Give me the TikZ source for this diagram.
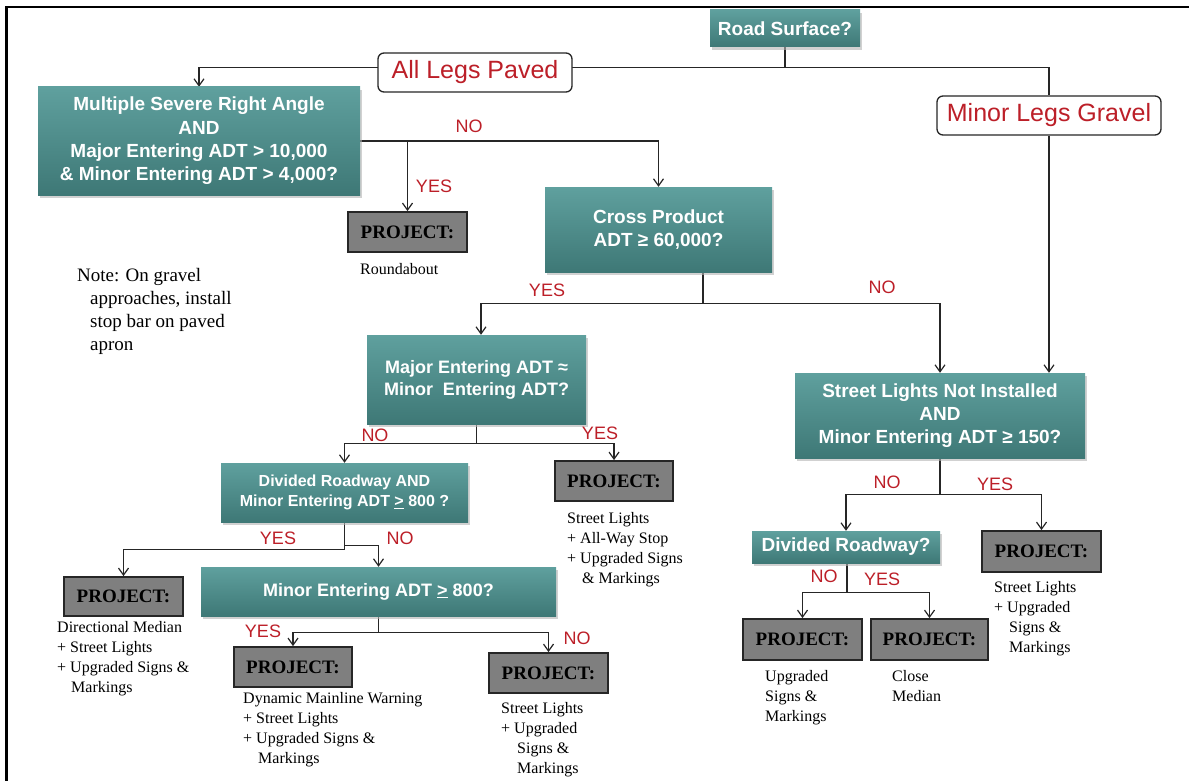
\documentclass[tikz,border=0pt]{standalone}
\usepackage{fontspec}
\setmainfont{Liberation Serif}
\setsansfont{Liberation Sans}
\usetikzlibrary{arrows.meta,shadows}
\definecolor{tealtop}{HTML}{5FA09E}
\definecolor{tealbot}{HTML}{3E7876}
\definecolor{lbl}{HTML}{BC1F28}
\definecolor{projgray}{HTML}{7F7F7F}
\definecolor{lncol}{HTML}{262626}
\pgfdeclarelayer{bg}
\pgfsetlayers{bg,main}
\newcommand{\txtlines}[1]{\begin{tabular}[t]{@{}l@{}}#1\end{tabular}}
\begin{document}
\begin{tikzpicture}[x=1pt,y=-1pt,
  qbox/.style={top color=tealtop,bottom color=tealbot,draw=none,text=white,
    font=\sffamily\bfseries\fontsize{19}{23.3}\selectfont,align=center,inner sep=0pt,
    general shadow={shadow xshift=2pt,shadow yshift=-3pt,fill=black!30,opacity=0.6}},
  rbox/.style={draw=lncol,line width=1.3pt,fill=white,rounded corners=6pt,text=lbl,
    font=\sffamily\fontsize{25}{25}\selectfont,inner sep=0pt},
  pbox/.style={draw=black!85,line width=1.8pt,fill=projgray,text=black,
    font=\bfseries\fontsize{19}{19}\selectfont,inner sep=0pt},
  lab/.style={text=lbl,font=\sffamily\fontsize{18}{18}\selectfont,inner sep=0pt},
  body/.style={anchor=base west,inner sep=0pt,font=\fontsize{16}{20}\selectfont},
  ln/.style={draw=lncol,line width=1.3pt},
  arr/.style={ln,-{Straight Barb[length=7pt,width=10pt,line width=1.2pt]}}]
\useasboundingbox (0,0) rectangle (1189,781);
\draw[line width=2.2pt] (6.5,781) -- (6.5,7) -- (1189,7);

% decision boxes
\node[qbox,minimum width=150,minimum height=37] (road) at (785,28.5) {Road Surface?};
\node[qbox,minimum width=322,minimum height=108] (msra) at (199,141)
  {Multiple Severe Right Angle\\AND\\Major Entering ADT > 10,000\\\& Minor Entering ADT > 4,000?};
\node[qbox,minimum width=227,minimum height=85] (cp) at (658.5,229.5) {Cross Product\\ADT ≥ 60,000?};
\node[qbox,minimum width=219,minimum height=89,font=\sffamily\bfseries\fontsize{18}{22}\selectfont] (major) at (476.5,379.5)
  {Major Entering ADT ≈\\Minor~~Entering ADT?};
\node[qbox,minimum width=247,minimum height=59,font=\sffamily\bfseries\fontsize{16}{19.5}\selectfont] (divand) at (344.5,492.5)
  {Divided Roadway AND\\Minor Entering ADT \underline{>} 800 ?};
\node[qbox,minimum width=355,minimum height=49,font=\sffamily\bfseries\fontsize{18}{22}\selectfont] (minor800) at (378.5,591.5) {Minor Entering ADT \underline{>} 800?};
\node[qbox,minimum width=290,minimum height=85] (sl) at (940,415.5)
  {Street Lights Not Installed\\AND\\Minor Entering ADT ≥ 150?};
\node[qbox,minimum width=188,minimum height=32] (divr) at (846,547) {Divided Roadway?};

% branch boxes
\node[rbox,minimum width=194,minimum height=39] (alp) at (475,72.5) {All Legs Paved};
\node[rbox,minimum width=224,minimum height=39] (mlg) at (1049,115.5) {Minor Legs Gravel};

% project boxes
\node[pbox,minimum width=119,minimum height=40] (proj1) at (407.5,232) {PROJECT:};
\node[pbox,minimum width=118,minimum height=40] (proj2) at (614,481) {PROJECT:};
\node[pbox,minimum width=119,minimum height=39] (proj3) at (123.5,596.5) {PROJECT:};
\node[pbox,minimum width=118,minimum height=40] (proj4) at (293,667) {PROJECT:};
\node[pbox,minimum width=119,minimum height=40] (proj5) at (548.5,673) {PROJECT:};
\node[pbox,minimum width=119,minimum height=41] (proj6) at (1041.5,551.5) {PROJECT:};
\node[pbox,minimum width=119,minimum height=41] (proj7) at (802.5,639.5) {PROJECT:};
\node[pbox,minimum width=117,minimum height=41] (proj8) at (929.5,639.5) {PROJECT:};

% connectors
\begin{pgfonlayer}{bg}
\draw[ln] (road.south) -- ++(0,20) coordinate (j1);
\draw[arr] (j1) -| (msra.north);
\draw[ln] (j1) -| (mlg.north);
\draw[arr] (mlg.south) -- (mlg.south |- sl.north);
\draw[arr] (msra.east) -| (cp.north);
\draw[arr] (msra.east -| proj1.north) -- (proj1.north);
\draw[ln] ([xshift=44.5pt]cp.south) -- ++(0,31) coordinate (j2);
\draw[arr] (j2) -| ([xshift=4.5pt]major.north);
\draw[arr] (j2) -| (sl.north);
\draw[ln] (major.south) -- ++(0,19) coordinate (j3);
\draw[arr] (j3) -| (divand.north);
\draw[arr] (j3) -| (proj2.north);
\draw[ln] (divand.south) -- ++(0,27) coordinate (j4);
\draw[arr] (j4) -| (proj3.north);
\draw[arr] ([yshift=4pt]j4) -| (minor800.north);
\draw[ln] (minor800.south) -- ++(0,16) coordinate (j5);
\draw[arr] (j5) -| (proj4.north);
\draw[arr] (j5) -| (proj5.north);
\draw[ln] (sl.south) -- ++(0,36) coordinate (j6);
\draw[arr] (j6) -| (divr.north);
\draw[arr] (j6) -| (proj6.north);
\draw[ln] ([xshift=1pt]divr.south) -- ++(0,29) coordinate (j7);
\draw[arr] (j7) -| (proj7.north);
\draw[arr] (j7) -| (proj8.north);
\end{pgfonlayer}

% YES / NO labels
\node[lab] (no1) at (469,126) {NO};
\node[lab] (yes1) at (434,186) {YES};
\node[lab] (yes2) at (547,290) {YES};
\node[lab] (no2) at (882,287) {NO};
\node[lab] (no3) at (375,435) {NO};
\node[lab] (yes3) at (600,433) {YES};
\node[lab] (yes4) at (278,538) {YES};
\node[lab] (no4) at (400,538) {NO};
\node[lab] (yes5) at (263,631) {YES};
\node[lab] (no5) at (577,638) {NO};
\node[lab] (no6) at (887,482) {NO};
\node[lab] (yes6) at (995,484) {YES};
\node[lab] (no7) at (824,576) {NO};
\node[lab] (yes7) at (882,579) {YES};

% texts
\node[body] (t1) at (360,274) {Roundabout};
\node[body,font=\fontsize{19}{23.3}\selectfont] (note) at (77,281)
  {\txtlines{Note: On gravel\\\hspace*{13pt}approaches, install\\\hspace*{13pt}stop bar on paved\\\hspace*{13pt}apron}};
\node[body] (t3) at (57,632) {\txtlines{Directional Median\\+ Street Lights\\+ Upgraded Signs \&\\\hspace*{14pt}Markings}};
\node[body] (t2) at (567,523) {\txtlines{Street Lights\\+ All-Way Stop\\+ Upgraded Signs\\\hspace*{15pt}\& Markings}};
\node[body] (t4) at (243,703) {\txtlines{Dynamic Mainline Warning\\+ Street Lights\\+ Upgraded Signs \&\\\hspace*{15pt}Markings}};
\node[body] (t5) at (501,713) {\txtlines{Street Lights\\+ Upgraded\\\hspace*{16pt}Signs \&\\\hspace*{16pt}Markings}};
\node[body] (t6) at (994,592) {\txtlines{Street Lights\\+ Upgraded\\\hspace*{15pt}Signs \&\\\hspace*{15pt}Markings}};
\node[body] (t7) at (765,681) {\txtlines{Upgraded\\Signs \&\\Markings}};
\node[body] (t8) at (892,681) {\txtlines{Close\\Median}};
\end{tikzpicture}
\end{document}
